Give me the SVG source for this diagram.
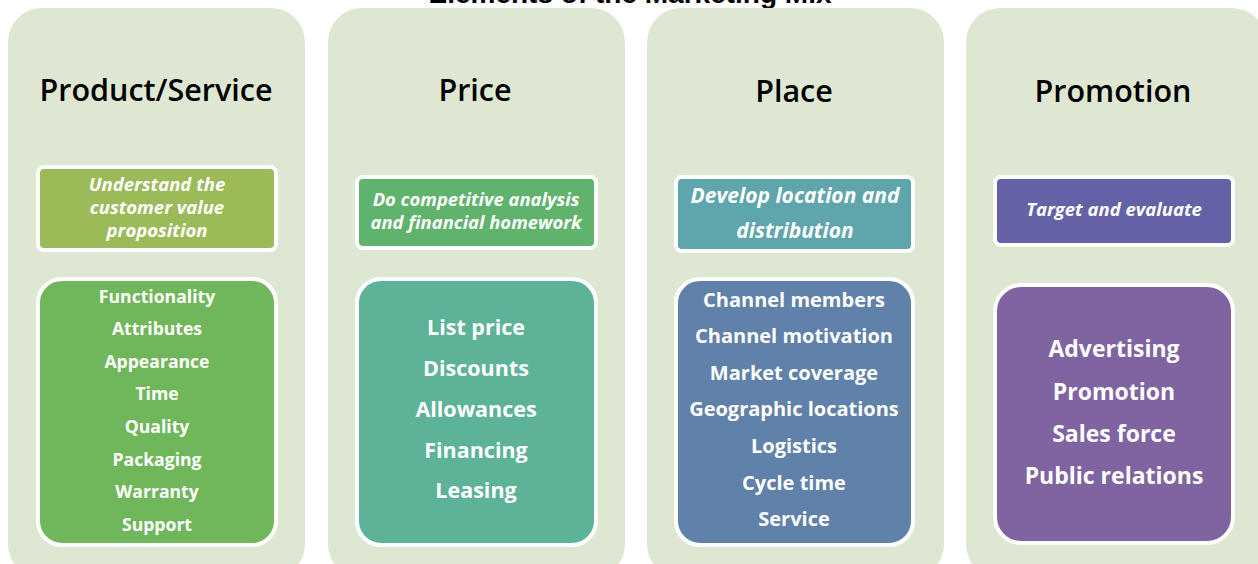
<svg xmlns="http://www.w3.org/2000/svg" width="1258" height="564" viewBox="0 0 1258 564">
<style>
.panel{fill:#dee7d1}
.box{stroke:#fff;stroke-width:4}
.title{font-family:"Open Sans","Liberation Sans",sans-serif;font-size:30.5px;font-weight:600;fill:#000;text-anchor:middle}
.hd{font-family:"Open Sans","Liberation Sans",sans-serif;font-weight:700;font-style:italic;fill:#fff;text-anchor:middle}
.it{font-family:"Open Sans","Liberation Sans",sans-serif;font-weight:700;fill:#fff;text-anchor:middle}
.main{font-family:"Liberation Sans",Arial,sans-serif;font-weight:700;font-size:28px;fill:#000;text-anchor:middle}
</style>
<rect width="1258" height="564" fill="#fff"/>
<text class="main" x="630" y="3">Elements of the Marketing Mix</text>
<g id="product">
<rect class="panel" x="8" y="8" width="297" height="570" rx="34"/>
<text class="title" x="156" y="101">Product/Service</text>
<rect class="box" x="38" y="167" width="238" height="83" rx="6" fill="#9bbb59"/>
<text class="hd" font-size="18.5"><tspan x="157" y="191">Understand the</tspan><tspan x="157" y="214">customer value</tspan><tspan x="157" y="237">proposition</tspan></text>
<rect class="box" x="38" y="279" width="238" height="266" rx="24" fill="#70b75b"/>
<text class="it" font-size="17.6"><tspan x="157" y="303">Functionality</tspan><tspan x="157" y="335">Attributes</tspan><tspan x="157" y="368">Appearance</tspan><tspan x="157" y="400">Time</tspan><tspan x="157" y="433">Quality</tspan><tspan x="157" y="466">Packaging</tspan><tspan x="157" y="498">Warranty</tspan><tspan x="157" y="531">Support</tspan></text>
</g>
<g id="price">
<rect class="panel" x="328" y="8" width="297" height="570" rx="34"/>
<text class="title" x="475" y="101">Price</text>
<rect class="box" x="357" y="177" width="239" height="71" rx="6" fill="#5fb36d"/>
<text class="hd" font-size="18.4"><tspan x="476" y="206">Do competitive analysis</tspan><tspan x="476" y="229">and financial homework</tspan></text>
<rect class="box" x="357" y="279" width="239" height="266" rx="24" fill="#5db397"/>
<text class="it" font-size="21.5"><tspan x="476" y="335">List price</tspan><tspan x="476" y="376">Discounts</tspan><tspan x="476" y="417">Allowances</tspan><tspan x="476" y="458">Financing</tspan><tspan x="476" y="498">Leasing</tspan></text>
</g>
<g id="place">
<rect class="panel" x="647" y="8" width="297" height="570" rx="34"/>
<text class="title" x="794" y="102">Place</text>
<rect class="box" x="676" y="177" width="237" height="74" rx="6" fill="#5fa5ac"/>
<text class="hd" font-size="21"><tspan x="795" y="203">Develop location and</tspan><tspan x="795" y="238">distribution</tspan></text>
<rect class="box" x="676" y="279" width="237" height="266" rx="24" fill="#6081a9"/>
<text class="it" font-size="20"><tspan x="794" y="307">Channel members</tspan><tspan x="794" y="343">Channel motivation</tspan><tspan x="794" y="380">Market coverage</tspan><tspan x="794" y="416">Geographic locations</tspan><tspan x="794" y="453">Logistics</tspan><tspan x="794" y="490">Cycle time</tspan><tspan x="794" y="526">Service</tspan></text>
</g>
<g id="promotion">
<rect class="panel" x="966" y="8" width="300" height="570" rx="34"/>
<text class="title" x="1113" y="102">Promotion</text>
<rect class="box" x="995" y="177" width="238" height="68" rx="6" fill="#6462a6"/>
<text class="hd" font-size="18.5" x="1114" y="216">Target and evaluate</text>
<rect class="box" x="995" y="285" width="238" height="258" rx="26" fill="#8064a2"/>
<text class="it" font-size="23"><tspan x="1114" y="357">Advertising</tspan><tspan x="1114" y="400">Promotion</tspan><tspan x="1114" y="442">Sales force</tspan><tspan x="1114" y="484">Public relations</tspan></text>
</g>
<g id="connectors"/>
</svg>
